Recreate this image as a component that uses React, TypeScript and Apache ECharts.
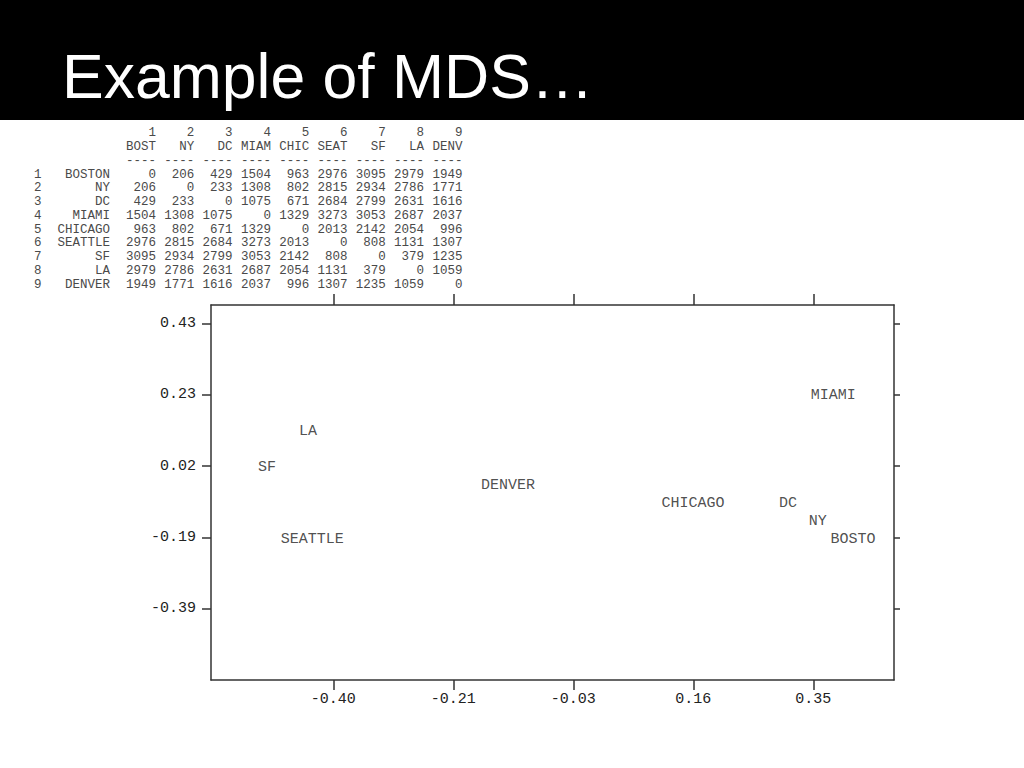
import React, { useEffect, useRef } from "react";
import * as echarts from "echarts";

// ---- distance table ----
const cityNames = ["BOSTON", "NY", "DC", "MIAMI", "CHICAGO", "SEATTLE", "SF", "LA", "DENVER"];
const cityAbbr = ["BOST", "NY", "DC", "MIAM", "CHIC", "SEAT", "SF", "LA", "DENV"];
const distances = [
  [0, 206, 429, 1504, 963, 2976, 3095, 2979, 1949],
  [206, 0, 233, 1308, 802, 2815, 2934, 2786, 1771],
  [429, 233, 0, 1075, 671, 2684, 2799, 2631, 1616],
  [1504, 1308, 1075, 0, 1329, 3273, 3053, 2687, 2037],
  [963, 802, 671, 1329, 0, 2013, 2142, 2054, 996],
  [2976, 2815, 2684, 3273, 2013, 0, 808, 1131, 1307],
  [3095, 2934, 2799, 3053, 2142, 808, 0, 379, 1235],
  [2979, 2786, 2631, 2687, 2054, 1131, 379, 0, 1059],
  [1949, 1771, 1616, 2037, 996, 1307, 1235, 1059, 0],
];

// ---- MDS configuration ----
const plotLabels = ["MIAMI", "LA", "SF", "DENVER", "CHICAGO", "DC", "NY", "BOSTO", "SEATTLE"];
const plotX = [0.381, -0.4395, -0.5036, -0.127, 0.162, 0.3105, 0.357, 0.412, -0.433];
const plotY = [0.2276, 0.1242, 0.0209, -0.0308, -0.0825, -0.0825, -0.1341, -0.1858, -0.1858];

const xTickValues = [-0.4, -0.2125, -0.025, 0.1625, 0.35];
const xTickLabels = ["-0.40", "-0.21", "-0.03", "0.16", "0.35"];
const yTickValues = [0.43, 0.225, 0.02, -0.185, -0.39];
const yTickLabels = ["0.43", "0.23", "0.02", "-0.19", "-0.39"];

const title = "Example of MDS\u2026";

const X_MIN = -0.591, X_MAX = 0.476;
const Y_MIN = -0.594, Y_MAX = 0.483;

const MONO = '"Liberation Mono", "DejaVu Sans Mono", monospace';

function labelFor(values: number[], labels: string[]) {
  return (v: number) => {
    const i = values.findIndex((t) => Math.abs(t - v) < 1e-6);
    return i >= 0 ? labels[i] : "";
  };
}

function buildTable(): any[] {
  const els: any[] = [];
  const font = `12.5px ${MONO}`;
  const color = "#4a4a4a";
  const y0 = 133.3;
  const dy = 13.75;
  const colRight = (j: number) => 156 + j * 38.3;
  const txt = (text: string, x: number, y: number, align: string) => ({
    type: "text",
    x,
    y,
    silent: true,
    style: { text, font, fill: color, align, verticalAlign: "middle" },
  });
  for (let j = 0; j < cityAbbr.length; j++) {
    els.push(txt(String(j + 1), colRight(j), y0, "right"));
    els.push(txt(cityAbbr[j], colRight(j), y0 + dy, "right"));
    els.push(txt("----", colRight(j), y0 + 2 * dy, "right"));
  }
  for (let i = 0; i < cityNames.length; i++) {
    const y = y0 + (3 + i) * dy;
    els.push(txt(String(i + 1), 34, y, "left"));
    els.push(txt(cityNames[i], 110, y, "right"));
    for (let j = 0; j < distances[i].length; j++) {
      els.push(txt(String(distances[i][j]), colRight(j), y, "right"));
    }
  }
  return els;
}

export default function App() {
  const ref = useRef<HTMLDivElement>(null);
  useEffect(() => {
    if (!ref.current) return;
    const chart = echarts.init(ref.current, null, { renderer: "svg" });
    const axisLine = { show: true, onZero: false, lineStyle: { color: "#333", width: 1.5 } };
    const tickStyle = { color: "#333", width: 1.5 };
    const labelStyle = { fontFamily: MONO, fontSize: 15, color: "#222" };
    chart.setOption({
      animation: false,
      backgroundColor: "#fff",
      grid: { left: 211, right: 130, top: 305, bottom: 88, containLabel: false },
      graphic: [
        { type: "rect", shape: { x: 0, y: 0, width: 1024, height: 120 }, style: { fill: "#000" }, silent: true },
        {
          type: "text",
          x: 62,
          y: 76,
          silent: true,
          style: { text: title, font: '62.5px "Liberation Sans", Arial, sans-serif', fill: "#fff", verticalAlign: "middle" },
        },
        ...buildTable(),
      ],
      xAxis: [
        {
          type: "value",
          position: "bottom",
          min: X_MIN,
          max: X_MAX,
          axisLine,
          splitLine: { show: false },
          axisTick: { show: true, inside: false, length: 10, customValues: xTickValues, lineStyle: tickStyle },
          axisLabel: { ...labelStyle, margin: 12, customValues: xTickValues, formatter: labelFor(xTickValues, xTickLabels) },
        },
        {
          type: "value",
          position: "top",
          min: X_MIN,
          max: X_MAX,
          axisLine,
          splitLine: { show: false },
          axisTick: { show: true, inside: false, length: 11, customValues: xTickValues, lineStyle: tickStyle },
          axisLabel: { show: false },
        },
      ],
      yAxis: [
        {
          type: "value",
          position: "left",
          min: Y_MIN,
          max: Y_MAX,
          axisLine,
          splitLine: { show: false },
          axisTick: { show: true, inside: false, length: 9, customValues: yTickValues, lineStyle: tickStyle },
          axisLabel: { ...labelStyle, margin: 15, offset: [0, 0], customValues: yTickValues, formatter: labelFor(yTickValues, yTickLabels), padding: [3, 0, 0, 0] },
        },
        {
          type: "value",
          position: "right",
          min: Y_MIN,
          max: Y_MAX,
          axisLine,
          splitLine: { show: false },
          axisTick: { show: true, inside: false, length: 6, customValues: yTickValues, lineStyle: tickStyle },
          axisLabel: { show: false },
        },
      ],
      series: [
        {
          type: "scatter",
          xAxisIndex: 0,
          yAxisIndex: 0,
          symbolSize: 1,
          itemStyle: { color: "rgba(0,0,0,0)" },
          data: plotLabels.map((name, i) => ({ name, value: [plotX[i], plotY[i]] })),
          label: {
            show: true,
            position: "inside",
            offset: [0, 2],
            formatter: (p: any) => p.name,
            fontFamily: MONO,
            fontSize: 15,
            color: "#222",
          },
        },
      ],
    });
    return () => chart.dispose();
  }, []);
  return (
    <div
      ref={ref}
      style={{ position: "absolute", left: 0, top: 0, width: 1024, height: 768, background: "#fff" }}
    />
  );
}
